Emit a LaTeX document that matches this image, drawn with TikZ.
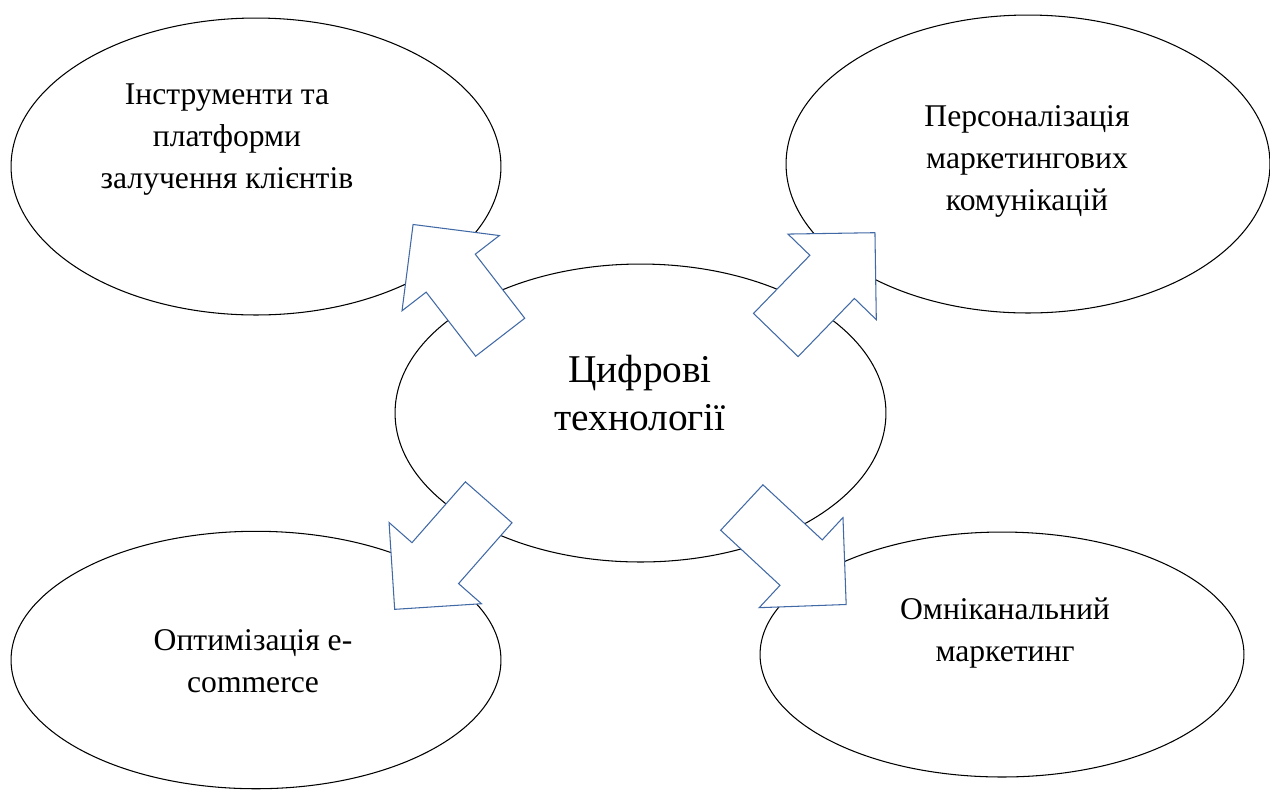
\documentclass[tikz,border=0pt]{standalone}
\usepackage{fontspec}
\setmainfont{Liberation Serif}
\usetikzlibrary{shapes.geometric}
\usetikzlibrary{shapes.arrows}
\definecolor{arrowblue}{RGB}{65,105,165}

\begin{document}
\begin{tikzpicture}[x=0.02cm,y=-0.02cm,
	bubble/.style={ellipse,draw=black,fill=white,line width=0.6pt,inner sep=0,outer sep=0},
	blockarr/.style={single arrow,draw=arrowblue,fill=white,line width=0.6pt,inner xsep=0,inner ysep=0.61cm,outer sep=0,
		minimum height=2.85cm,single arrow head extend=0.61cm,anchor=tail},
	lbl/.style={align=center,inner sep=0,font=\fontsize{18}{23.9}\selectfont}]
	\useasboundingbox (0,0) rectangle (1270,789);
	
	%CENTRE
	\node[bubble,minimum width=9.82cm,minimum height=5.96cm] (digit) at (640.5,413) {};
	
	%TOP
	\node[bubble,minimum width=9.8cm,minimum height=5.94cm] (tools) at (256,166.5) {};
	\node[bubble,minimum width=9.68cm,minimum height=5.96cm] (perso) at (1028,164) {};
	
	%BOTTOM
	\node[bubble,minimum width=9.8cm,minimum height=5.15cm] (ecom) at (256,660) {};
	\node[bubble,minimum width=9.68cm,minimum height=4.9cm] (omni) at (1002,654.5) {};
	
	%block arrows out of the centre
	\coordinate (tailTL) at (500.2,337.2);
	\coordinate (tailTR) at (775.8,335);
	\coordinate (tailBL) at (488.7,502.3);
	\coordinate (tailBR) at (741.8,507.5);
	\node[blockarr,rotate=127.7] (arrTL) at (tailTL) {};
	\node[blockarr,rotate=45.9] (arrTR) at (tailTR) {};
	\node[blockarr,rotate=228.7] (arrBL) at (tailBL) {};
	\node[blockarr,rotate=-42.9] (arrBR) at (tailBR) {};
	
	%labels
	\node[align=center,inner sep=0,font=\fontsize{22.4}{27.5}\selectfont] (tDigit) at (640,393) {Цифрові\\технології};
	\node[lbl] (tTools) at (227,140) {Інструменти та\\платформи\\залучення клієнтів};
	\node[lbl] (tPerso) at (1027,161) {Персоналізація\\маркетингових\\комунікацій};
	\node[lbl] (tEcom) at (253,661) {Оптимізація е-\\commerce};
	\node[lbl] (tOmni) at (1005,633.5) {Омніканальний\\маркетинг};
\end{tikzpicture}
\end{document}
